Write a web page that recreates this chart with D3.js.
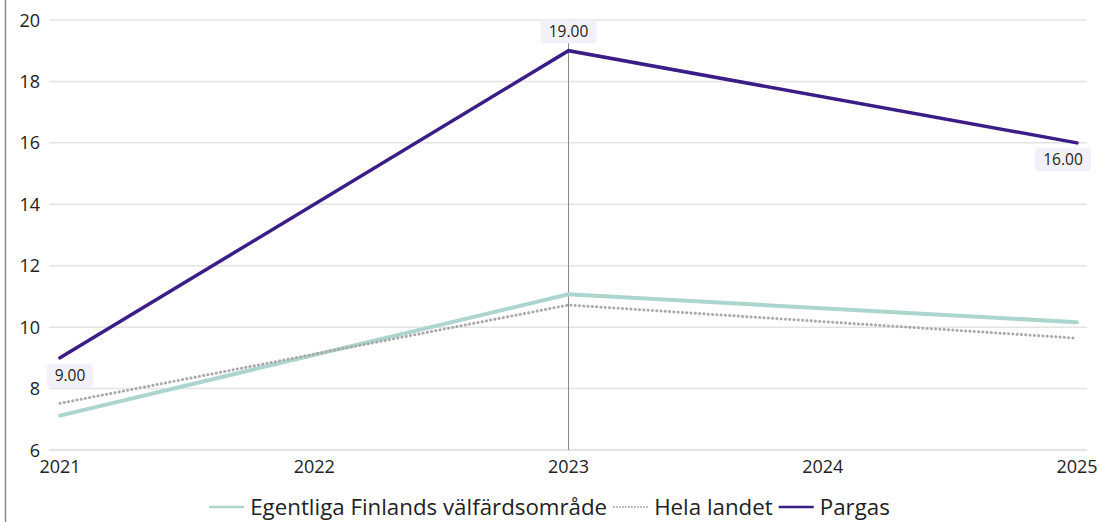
<!DOCTYPE html>
<html><head><meta charset="utf-8">
<script src="https://cdn.jsdelivr.net/npm/d3@7"></script>
<style>
html,body{margin:0;padding:0;background:#fff;}
svg{display:block;font-family:"Open Sans","Noto Sans",sans-serif;}
</style></head><body>
<svg id="c" width="1099" height="522"></svg>
<script>
const years = [2021, 2023, 2025];
const xTicks = [2021, 2022, 2023, 2024, 2025];
const yTicks = [6, 8, 10, 12, 14, 16, 18, 20];
const seriesNames = ["Egentliga Finlands välfärdsområde", "Hela landet", "Pargas"];
const egentliga = [7.12, 11.07, 10.16];
const helaLandet = [7.52, 10.72, 9.64];
const pargas = [9, 19, 16];
const pargasLabels = ["9.00", "19.00", "16.00"];

const svg = d3.select("#c");
const x = d3.scaleLinear().domain([2021, 2025]).range([60, 1077]);
const y = d3.scaleLinear().domain([6, 20]).range([450, 20]);

// left border
svg.append("line").attr("x1",5.5).attr("x2",5.5).attr("y1",0).attr("y2",522)
  .attr("stroke","#8b80c4").attr("stroke-width",1.5);

// grid
svg.append("g").selectAll("line").data(yTicks).join("line")
  .attr("x1",49).attr("x2",1087)
  .attr("y1",d=>y(d)).attr("y2",d=>y(d))
  .attr("stroke",d=>d===6?"#d3dedb":"#e3e3e3").attr("stroke-width",1.5);

// y labels
svg.append("g").selectAll("text").data(yTicks).join("text")
  .attr("x",40).attr("y",d=>y(d)+6.5).attr("text-anchor","end")
  .attr("font-size",18).attr("fill","#222").text(d=>d);

// x labels
svg.append("g").selectAll("text").data(xTicks).join("text")
  .attr("x",d=>x(d)).attr("y",473).attr("text-anchor","middle")
  .attr("font-size",18).attr("fill","#222").text(d=>d);

// crosshair at 2023
svg.append("line").attr("x1",x(2023)).attr("x2",x(2023)).attr("y1",y(20)).attr("y2",y(6))
  .attr("stroke","#8a8a8a").attr("stroke-width",1);

const line = d3.line().x((d,i)=>x(years[i])).y(d=>y(d));

svg.append("path").datum(egentliga).attr("d",line).attr("fill","none")
  .attr("stroke","#acd6cd").attr("stroke-width",4).attr("stroke-linecap","round");
svg.append("path").datum(helaLandet).attr("d",line).attr("fill","none")
  .attr("stroke","#a9a9a9").attr("stroke-width",3).attr("stroke-dasharray","0.1 4.2")
  .attr("stroke-linecap","round");
svg.append("path").datum(pargas).attr("d",line).attr("fill","none")
  .attr("stroke","#3b1d87").attr("stroke-width",3.5).attr("stroke-linecap","round");

// data labels
const labelPos = [
  {dx:10, dy:18},
  {dx:0, dy:-19},
  {dx:-14, dy:17}
];
pargas.forEach((v,i)=>{
  const cx = x(years[i]) + labelPos[i].dx, cy = y(v) + labelPos[i].dy;
  const g = svg.append("g");
  g.append("rect").attr("x",cx-28).attr("y",cy-11.5).attr("width",56)
    .attr("height",23).attr("rx",2).attr("fill","#f3f1f8");
  if(i===0) g.select("rect").attr("x",cx-23).attr("width",46);
  g.append("text").attr("x",cx).attr("y",cy+5.5).attr("text-anchor","middle")
    .attr("font-size",15.5).attr("fill","#222").text(pargasLabels[i]);
});

// legend
const legColors = ["#acd6cd","#aaaaaa","#3b1d87"];
const legend = svg.append("g");
let lx = 0;
seriesNames.forEach((n,i)=>{
  const g = legend.append("g");
  const sw = g.append("line").attr("x1",lx).attr("x2",lx+35).attr("y1",0).attr("y2",0)
    .attr("stroke",legColors[i]).attr("stroke-width",i===1?2:2.5);
  if(i===1) sw.attr("stroke-dasharray","1.5 1.5");
  const t = g.append("text").attr("x",lx+41).attr("y",8).attr("font-size",22.3)
    .attr("fill","#222").text(n);
  lx += 41 + t.node().getComputedTextLength() + 6;
});
const lw = lx - 6;
legend.attr("transform",`translate(${(1099-lw)/2},507)`);
</script>
</body></html>
